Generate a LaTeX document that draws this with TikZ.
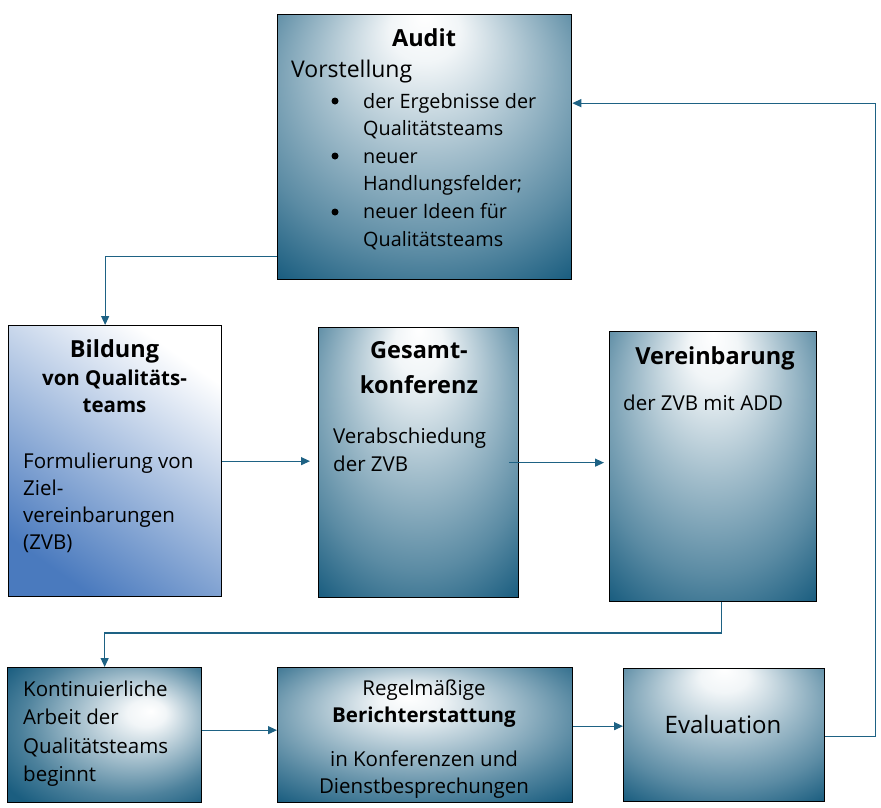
\documentclass[tikz,border=0pt]{standalone}
\usepackage{fontspec}
\setmainfont{Open Sans}
\usetikzlibrary{calc}
\usetikzlibrary{arrows.meta}
\definecolor{boxteal}{RGB}{27,94,128}
\definecolor{lineteal}{RGB}{30,98,132}
\definecolor{bildblue}{RGB}{74,122,190}
\newcommand{\rowsl}[1]{\begin{tabular}[t]{@{}l@{}}#1\end{tabular}}
\newcommand{\rowsc}[1]{\begin{tabular}[t]{@{}c@{}}#1\end{tabular}}
\pgfdeclareradialshading{glowtop}{\pgfpoint{0bp}{25bp}}{color(0bp)=(white); color(6bp)=(white!94!boxteal); color(18bp)=(boxteal!40!white); color(30bp)=(boxteal!72!white); color(39bp)=(boxteal); color(50bp)=(boxteal)}
\pgfdeclareradialshading{glowright}{\pgfpoint{12bp}{9bp}}{color(0bp)=(white); color(5bp)=(white!94!boxteal); color(17bp)=(boxteal!45!white); color(27bp)=(boxteal!78!white); color(36bp)=(boxteal); color(50bp)=(boxteal)}
\pgfdeclareradialshading{glowmid}{\pgfpoint{-3bp}{14bp}}{color(0bp)=(white); color(5bp)=(white!94!boxteal); color(17bp)=(boxteal!42!white); color(28bp)=(boxteal!75!white); color(37bp)=(boxteal); color(50bp)=(boxteal)}
\tikzset{
  stage/.style={draw=black, line width=1.3pt, inner sep=0pt, anchor=north west, shade},
  lft/.style={inner sep=0pt, anchor=base west},
  ctr/.style={inner sep=0pt, anchor=base},
  ttl/.style={ctr, font=\bfseries\fontsize{23.5}{35}\selectfont},
  sub/.style={ctr, font=\bfseries\fontsize{20.5}{27}\selectfont},
  txt/.style={lft, font=\fontsize{20.5}{28}\selectfont},
  mid/.style={ctr, font=\fontsize{20.5}{27}\selectfont},
  bul/.style={circle, fill=black, inner sep=0pt, minimum size=7pt},
  flow/.style={draw=lineteal, line width=1.2pt, -{Triangle[length=9pt,width=8pt]}}
}
\begin{document}
\begin{tikzpicture}[x=1pt,y=-1pt]
\useasboundingbox (0,0) rectangle (881,807);
\node[stage, shading=glowtop, minimum width=294pt, minimum height=265pt] (audit) at (277,14) {};
\node[stage, top color=white, middle color=bildblue!45!white, bottom color=bildblue, shading angle=-35, minimum width=213pt, minimum height=271pt] (bildung) at (8,325) {};
\node[stage, shading=glowtop, minimum width=200pt, minimum height=270pt] (gesamt) at (318,327) {};
\node[stage, shading=glowtop, minimum width=207pt, minimum height=270pt] (vereinb) at (609,331) {};
\node[stage, shading=glowright, minimum width=194pt, minimum height=135pt] (kont) at (7,667) {};
\node[stage, shading=glowmid, minimum width=295pt, minimum height=135pt] (regel) at (277,667) {};
\node[stage, shading=glowtop, minimum width=201pt, minimum height=133pt] (evalu) at (623,668) {};

\node[ttl] (audittitle) at (424,46) {Audit};
\node[lft, font=\fontsize{23}{28}\selectfont] (vorst) at (291,77) {Vorstellung};
\node[lft, font=\fontsize{19.8}{27.6}\selectfont] (liste) at (363,108) {\rowsl{der Ergebnisse der\\Qualitätsteams\\neuer\\Handlungsfelder;\\neuer Ideen für\\Qualitätsteams}};
\foreach \y [count=\i] in {101,156,212}
  \node[bul] (bul\i) at (335,\y) {};

\node[ttl] (bildtitle) at (114.5,357) {Bildung};
\node[sub] (bildsub) at (114.5,385) {\rowsc{von Qualitäts-\\teams}};
\node[lft, font=\fontsize{20.5}{27}\selectfont] (bildtxt) at (23,468) {\rowsl{Formulierung von\\Ziel-\\vereinbarungen\\(ZVB)}};

\node[ttl] (gestitle) at (419,358) {\rowsc{Gesamt-\\konferenz}};
\node[txt] (gestxt) at (333,443) {\rowsl{Verabschiedung\\der ZVB}};

\node[ttl] (vertitle) at (715,364) {Vereinbarung};
\node[txt] (vertxt) at (623,410) {der ZVB mit ADD};

\node[lft, font=\fontsize{20.5}{28.5}\selectfont] (konttxt) at (23,696) {\rowsl{Kontinuierliche\\Arbeit der\\Qualitätsteams\\beginnt}};

\node[mid] (regeltop) at (424,695) {Regelmäßige};
\node[sub] (regelsub) at (424,722) {Berichterstattung};
\node[mid] (regeltxt) at (424,766) {\rowsc{in Konferenzen und\\Dienstbesprechungen}};

\node[mid, font=\fontsize{24}{28}\selectfont] (evaltxt) at (723,733) {Evaluation};

\draw[flow] ($(audit.south west)+(0,-24)$) -| ($(bildung.north)+(-10,0)$);
\draw[flow, shorten >=8pt] (bildung.east) -- (bildung.east -| gesamt.west);
\draw[flow, shorten >=5pt] ($(gesamt.east)+(-10,0)$) -- (gesamt.east -| vereinb.west);
\draw[flow] ($(vereinb.south)+(8,0)$) |- ($(kont.north)+(0,-34)$) -- (kont.north);
\draw[flow] ($(kont.east)+(0,-5)$) -- ($(regel.west)+(0,-5)$);
\draw[flow] ($(regel.east)+(0,-9)$) -- ($(evalu.west)+(0,-9)$);
\draw[flow] ($(evalu.east)+(0,1)$) -- ++(50,0) |- ($(audit.east)+(0,-44)$);
\end{tikzpicture}
\end{document}
